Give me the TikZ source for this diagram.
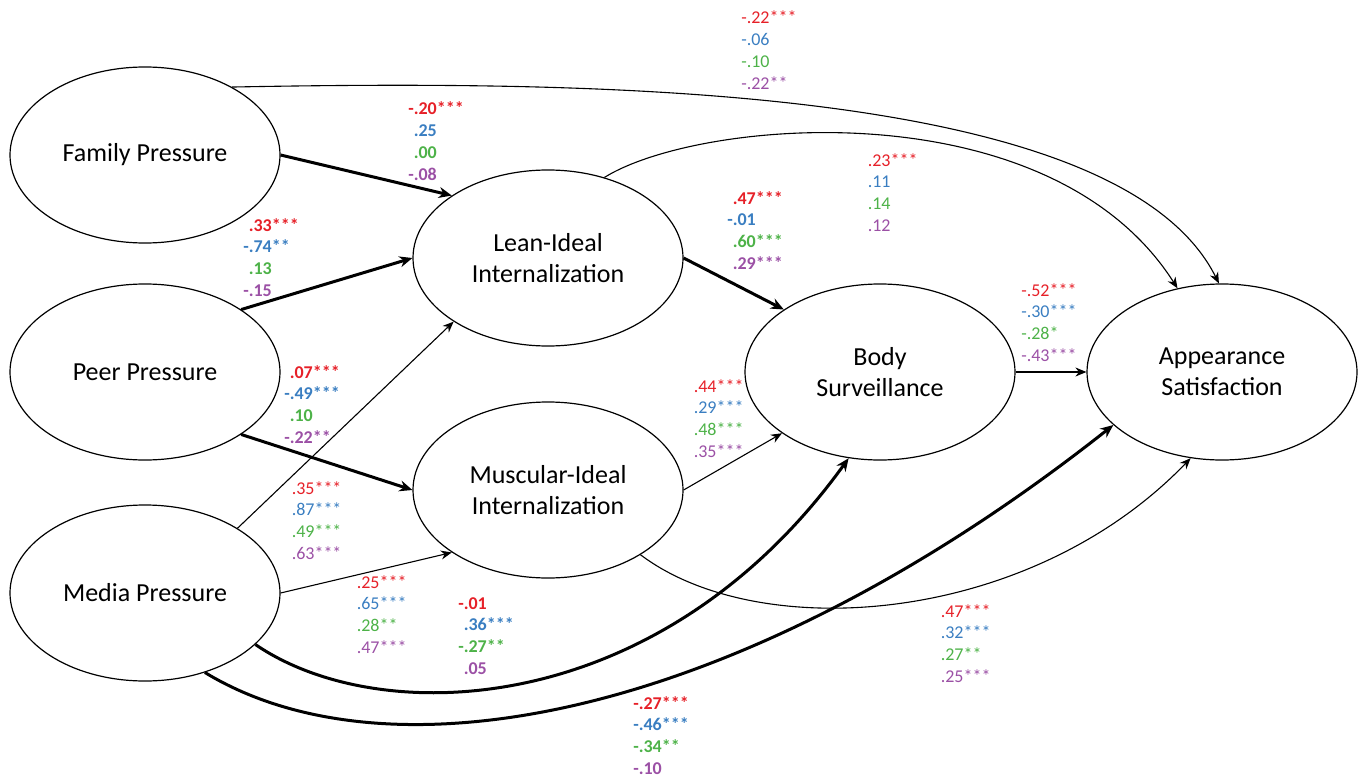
\documentclass[tikz,border=0pt]{standalone}
\usepackage{fontspec}
\setmainfont{Carlito}
\usetikzlibrary{shapes.geometric, arrows.meta}

\definecolor{cr}{RGB}{230,32,40}
\definecolor{cb}{RGB}{58,126,193}
\definecolor{cg}{RGB}{77,178,72}
\definecolor{cp}{RGB}{155,80,165}

\tikzstyle{factor}=[ellipse, draw, line width=1.2pt, minimum width=270pt, minimum height=176pt, inner sep=0pt, align=center, font=\fontsize{26}{31}\selectfont]
\tikzstyle{lightpath}=[line width=1.1pt, -{Stealth[length=11pt,width=9pt]}]
\tikzstyle{heavypath}=[line width=3pt, -{Stealth[length=13pt,width=11pt]}]
\tikzstyle{coef}=[anchor=base west, yshift=-65.1pt, inner sep=0pt, align=left, font=\fontsize{18}{21.7}\selectfont]
\tikzstyle{boldcoef}=[coef, font=\fontsize{18}{21.7}\selectfont\bfseries]

\newcommand{\cf}[3]{\textcolor{#1}{\makebox[0.31em][r]{#2}#3}}
\newcommand{\coefs}[8]{\cf{cr}{#1}{#2}\\\cf{cb}{#3}{#4}\\\cf{cg}{#5}{#6}\\\cf{cp}{#7}{#8}}

\begin{document}
\begin{tikzpicture}[x=1pt, y=-1pt]
\useasboundingbox (0,0) rectangle (1359,778);
% Factors
    \node[factor] (fam)   at (145,155)  {Family Pressure};
    \node[factor] (peer)  at (145,372)  {Peer Pressure};
    \node[factor] (media) at (145,593)  {Media Pressure};
    \node[factor] (lean)  at (548,258)  {Lean-Ideal\\Internalization};
    \node[factor] (musc)  at (548,490)  {Muscular-Ideal\\Internalization};
    \node[factor] (surv)  at (880,372)  {Body\\Surveillance};
    \node[factor] (app)   at (1222,372) {Appearance\\Satisfaction};
%Straight paths
    \draw[heavypath] (fam.east) -- (lean.147);
    \draw[heavypath] (peer.33) -- (lean.west);
    \draw[heavypath] (peer.-33) -- (musc.west);
    \draw[lightpath] (media.35) -- (lean.214);
    \draw[lightpath] (media.east) -- (musc.213);
    \draw[heavypath] (lean.east) -- (surv.147);
    \draw[lightpath] (musc.east) -- (surv.212);
    \draw[lightpath] (surv.east) -- (app.west);
%Curved paths
    \draw[lightpath] (fam.38) .. controls (600,80) and (1120,85) .. (app.92);
    \draw[lightpath] (lean.55) .. controls (700,118) and (1050,88) .. (app.118);
    \draw[lightpath] (musc.-35) .. controls (760,645) and (1030,625) .. (app.250);
    \draw[heavypath] (media.-25) .. controls (380,730) and (660,720) .. (surv.250);
    \draw[heavypath] (media.-53) .. controls (390,785) and (740,720) .. (app.206);
%Coefficients
    \node[coef]     (c1)  at (741,24)  {\coefs{-}{.22***}{-}{.06}{-}{.10}{-}{.22**}};
    \node[boldcoef] (c2)  at (408,115) {\coefs{-}{.20***}{}{.25}{}{.00}{-}{.08}};
    \node[boldcoef] (c3)  at (243,231) {\coefs{}{.33***}{-}{.74**}{}{.13}{-}{.15}};
    \node[boldcoef] (c4)  at (284,378) {\coefs{}{.07***}{-}{.49***}{}{.10}{-}{.22**}};
    \node[coef]     (c5)  at (688,392) {\coefs{}{.44***}{}{.29***}{}{.48***}{}{.35***}};
    \node[coef]     (c6)  at (862,166) {\coefs{}{.23***}{}{.11}{}{.14}{}{.12}};
    \node[boldcoef] (c7)  at (727,204) {\coefs{}{.47***}{-}{.01}{}{.60***}{}{.29***}};
    \node[coef]     (c8)  at (1021,296) {\coefs{-}{.52***}{-}{.30***}{-}{.28*}{-}{.43***}};
    \node[coef]     (c9)  at (286,494) {\coefs{}{.35***}{}{.87***}{}{.49***}{}{.63***}};
    \node[coef]     (c10) at (351,588) {\coefs{}{.25***}{}{.65***}{}{.28**}{}{.47***}};
    \node[boldcoef] (c11) at (458,609) {\coefs{-}{.01}{}{.36***}{-}{.27**}{}{.05}};
    \node[coef]     (c12) at (935,617) {\coefs{}{.47***}{}{.32***}{}{.27**}{}{.25***}};
    \node[boldcoef] (c13) at (633,709) {\coefs{-}{.27***}{-}{.46***}{-}{.34**}{-}{.10}};
\end{tikzpicture}
\end{document}
